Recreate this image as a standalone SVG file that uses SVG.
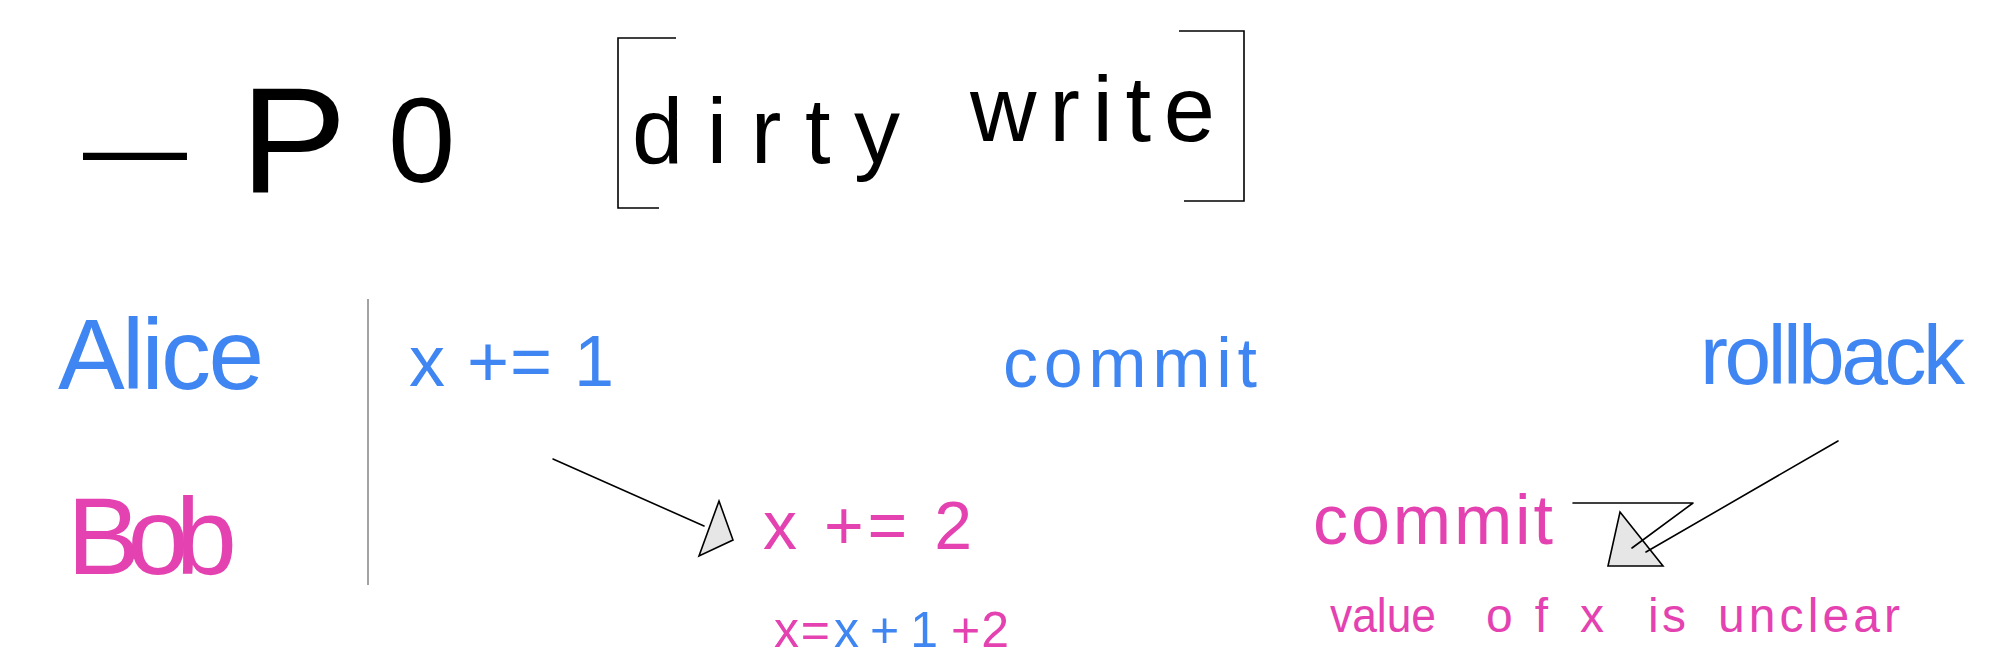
<svg xmlns="http://www.w3.org/2000/svg" width="2012" height="668" viewBox="0 0 2012 668">
  <style>
    text { font-family: "Liberation Sans", "DejaVu Sans", sans-serif; }
    .ink { fill: #000000; }
    .blue { fill: #3f86f2; }
    .pink { fill: #e442b0; }
    .bracket { fill: none; stroke: #000000; stroke-width: 1.6; }
    .conn { fill: none; stroke: #000000; stroke-width: 1.6; stroke-linecap: round; stroke-linejoin: round; }
    .head { fill: #e6e6e6; stroke: #000000; stroke-width: 1.6; stroke-linejoin: miter; }
    .divider { stroke: #a3a3a3; stroke-width: 2; }
  </style>
  <rect x="0" y="0" width="2012" height="668" fill="#ffffff"/>

  <g id="title">
    <text class="ink" x="83" y="184" font-size="110" textLength="104" lengthAdjust="spacingAndGlyphs">—</text>
    <text class="ink" x="240" y="192" font-size="150" textLength="107" lengthAdjust="spacingAndGlyphs">P</text>
    <text class="ink" x="388" y="182" font-size="121">0</text>
  </g>

  <g id="dirty-write">
    <polyline class="bracket" points="676,38 618,38 618,208 659,208"/>
    <polyline class="bracket" points="1179,31 1244,31 1244,201 1184,201"/>
    <text class="ink" x="632" y="163" font-size="92" textLength="268" lengthAdjust="spacing">dirty</text>
    <text class="ink" x="970" y="141" font-size="92" textLength="245" lengthAdjust="spacing">write</text>
  </g>

  <g id="divider">
    <line class="divider" x1="368" y1="299" x2="368" y2="585"/>
  </g>

  <g id="alice">
    <text class="blue" x="58" y="389" font-size="100" textLength="206" lengthAdjust="spacing">Alice</text>
  </g>

  <g id="bob">
    <text class="pink" x="67" y="574" font-size="110" textLength="170" lengthAdjust="spacing">Bob</text>
  </g>

  <g id="alice-write">
    <text class="blue" x="409" y="386" font-size="72" textLength="205" lengthAdjust="spacing">x += 1</text>
  </g>

  <g id="alice-commit">
    <text class="blue" x="1003" y="387" font-size="70" textLength="254" lengthAdjust="spacing">commit</text>
  </g>

  <g id="alice-rollback">
    <text class="blue" x="1700" y="384" font-size="84" textLength="265" lengthAdjust="spacing">rollback</text>
  </g>

  <g id="bob-write">
    <text class="pink" x="763" y="549" font-size="68" textLength="209" lengthAdjust="spacing">x += 2</text>
  </g>

  <g id="bob-result">
    <text font-size="50" y="647"><tspan class="pink" x="774" textLength="56" lengthAdjust="spacing">x=</tspan><tspan class="blue" x="834" textLength="104" lengthAdjust="spacing">x+1</tspan><tspan class="pink" x="951" textLength="58" lengthAdjust="spacing">+2</tspan></text>
  </g>

  <g id="bob-commit">
    <text class="pink" x="1313" y="544" font-size="70" textLength="240" lengthAdjust="spacing">commit</text>
  </g>

  <g id="unclear-note">
    <text class="pink" font-size="48" y="632"><tspan x="1330" textLength="106" lengthAdjust="spacingAndGlyphs">value</tspan><tspan x="1486" textLength="62" lengthAdjust="spacing">of</tspan><tspan x="1580">x</tspan><tspan x="1648" textLength="38" lengthAdjust="spacing">is</tspan><tspan x="1718" textLength="182" lengthAdjust="spacing">unclear</tspan></text>
  </g>

  <g id="connectors">
    <line class="conn" x1="553" y1="459" x2="704" y2="526"/>
    <polygon class="head" points="719,501 733,540 699,556"/>
    <polygon class="head" points="1620,512 1663,566 1608,566"/>
    <polyline class="conn" stroke-width="2" points="1573,503 1693,503 1632,548"/>
    <line class="conn" x1="1838" y1="441" x2="1646" y2="552"/>
  </g>
</svg>
